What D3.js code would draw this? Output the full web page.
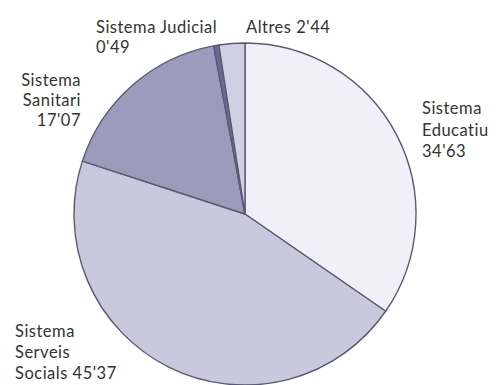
<!DOCTYPE html>
<html>
<head>
<meta charset="utf-8">
<script src="https://cdn.jsdelivr.net/npm/d3@7"></script>
<style>
  body { margin: 0; background: #fff; }
  text { font-family: Lato, "Open Sans", sans-serif; fill: #333; letter-spacing: 0.5px; }
</style>
</head>
<body>
<div id="vis"></div>
<script>
// slices, clockwise from 12 o'clock
var categories = ["Sistema Educatiu", "Sistema Serveis Socials", "Sistema Sanitari", "Sistema Judicial", "Altres"];
var values = [34.63, 45.37, 17.07, 0.49, 2.44];
var value_labels = ["34'63", "45'37", "17'07", "0'49", "2'44"];
var slice_colors = ["#f1f0f8", "#c9c8dd", "#9d9bbb", "#6c6a95", "#d0cfe3"];

// label lines for each slice
var label_lines = [
    ["Sistema", "Educatiu", "34'63"],
    ["Sistema", "Serveis", "Socials 45'37"],
    ["Sistema", "Sanitari", "17'07"],
    ["Sistema Judicial", "0'49"],
    ["Altres 2'44"]
];

var width = 496, height = 385;
var cx = 245, cy = 214, radius = 171;

var svg = d3.select("#vis")
    .append("svg")
    .attr("width", width)
    .attr("height", height);

var data = categories.map(function(c, i){
    return {name: c, value: values[i], color: slice_colors[i]};
});

var pie = d3.pie()
    .sort(null)
    .value(function(d){ return d.value; });

var arc = d3.arc()
    .innerRadius(0)
    .outerRadius(radius);

var g = svg.append("g")
    .attr("transform", "translate(" + cx + "," + cy + ")");

g.selectAll("path")
    .data(pie(data))
    .enter()
    .append("path")
    .attr("d", arc)
    .attr("fill", function(d){ return d.data.color; })
    .attr("stroke", "#5a5972")
    .attr("stroke-width", 1.4)
    .attr("stroke-linejoin", "round");

// label placement (x, first baseline, anchor, line step)
var label_pos = [
    {x: 422, y: 114, anchor: "start", step: 21.5},
    {x: 15, y: 337, anchor: "start", step: 21},
    {x: 81, y: 86, anchor: "end", step: 20},
    {x: 96, y: 33, anchor: "start", step: 20},
    {x: 246, y: 33, anchor: "start", step: 20}
];

label_lines.forEach(function(lines, i){
    var p = label_pos[i];
    var t = svg.append("text")
        .attr("x", p.x)
        .attr("y", p.y)
        .attr("text-anchor", p.anchor)
        .style("font-size", "16.5px");
    lines.forEach(function(line, j){
        t.append("tspan")
            .attr("x", p.x)
            .attr("dy", j === 0 ? 0 : p.step)
            .text(line);
    });
});
</script>
</body>
</html>
